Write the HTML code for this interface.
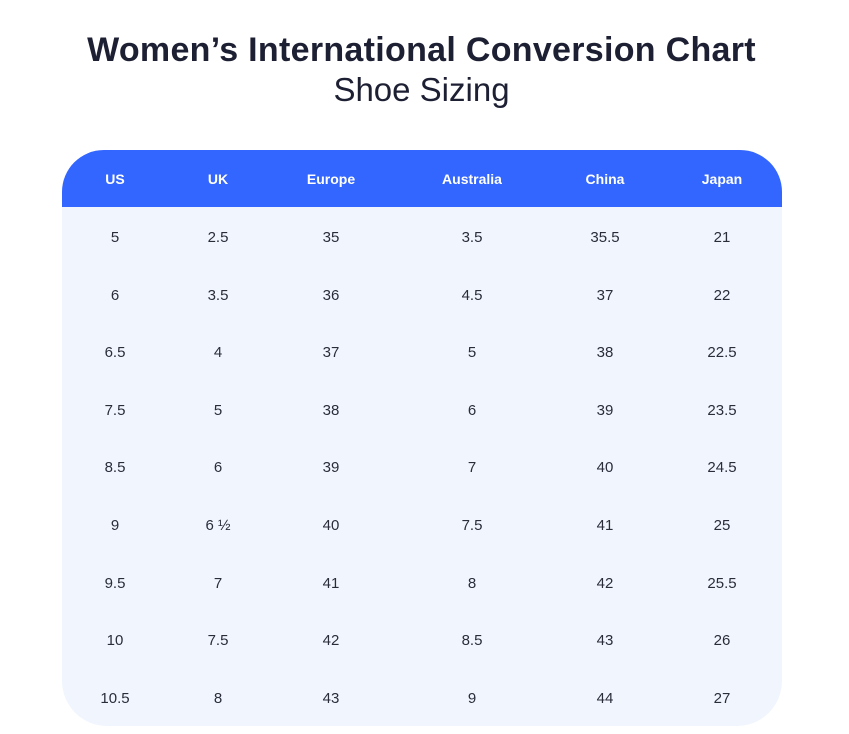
<!DOCTYPE html>
<html><head><style>
body{margin:0;width:849px;height:734px;background:#fff;font-family:"Liberation Sans",sans-serif;position:relative;overflow:hidden}
.t1{position:absolute;left:0;width:843px;top:31px;text-align:center;font-size:34px;font-weight:bold;color:#1d1f33;letter-spacing:0.3px}
.t2{position:absolute;left:0;width:843px;top:71px;text-align:center;font-size:33px;color:#1d1f33}
.tbl{position:absolute;left:62px;top:150px;width:720px;height:576px;background:#f1f6fe;border-radius:42px 42px 45px 45px;overflow:hidden}
.hd{position:absolute;left:0;top:0;width:720px;height:57px;background:#3366fe}
.c{position:absolute;width:120px;margin-left:-60px;text-align:center;font-size:15px;color:#2a2c3a}
.h{color:#fff;font-weight:bold;font-size:14px}
</style></head><body>
<div class="t1">Women’s International Conversion Chart</div>
<div class="t2">Shoe Sizing</div>
<div class="tbl"><div class="hd"></div></div>
<div id="cells">
<script>
var xs=[115,218,331,472,605,722];
var h=["US","UK","Europe","Australia","China","Japan"];
var r=[["5","2.5","35","3.5","35.5","21"],["6","3.5","36","4.5","37","22"],["6.5","4","37","5","38","22.5"],["7.5","5","38","6","39","23.5"],["8.5","6","39","7","40","24.5"],["9","6 ½","40","7.5","41","25"],["9.5","7","41","8","42","25.5"],["10","7.5","42","8.5","43","26"],["10.5","8","43","9","44","27"]];
var s="";
for(var i=0;i<6;i++)s+='<div class="c h" style="left:'+xs[i]+'px;top:171px">'+h[i]+'</div>';
for(var j=0;j<9;j++)for(var i=0;i<6;i++)s+='<div class="c" style="left:'+xs[i]+'px;top:'+(229+j*57.6)+'px">'+r[j][i]+'</div>';
document.write(s);
</script>
</div>
</body></html>
